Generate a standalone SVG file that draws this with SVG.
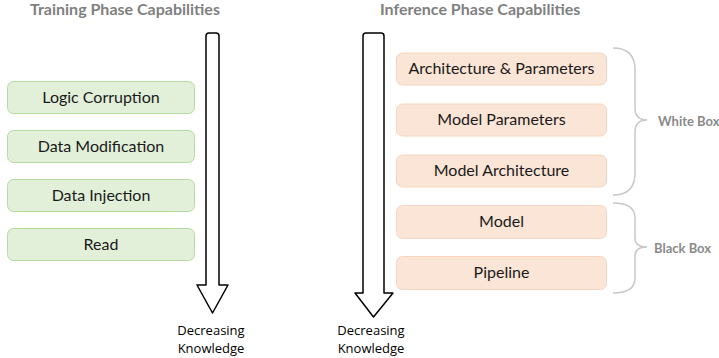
<svg xmlns="http://www.w3.org/2000/svg" width="719" height="358" viewBox="0 0 719 358">
<style>
.title{font-family:Lato,"Noto Sans",sans-serif;font-weight:bold;font-size:16px;fill:#7f7f7f}
.g rect{fill:#e2f0d9;stroke:#b5dba0;stroke-width:1}
.o rect{fill:#fbe5d6;stroke:#f4d6c2;stroke-width:1}
.lbl{font-family:Lato,"Noto Sans",sans-serif;font-size:16px;fill:#1a1a1a;text-anchor:middle;dominant-baseline:central}
.arrow{fill:#fff;stroke:#000;stroke-width:1.5;stroke-linejoin:round}
.dk{font-family:"Open Sans","Noto Sans",sans-serif;font-size:13px;fill:#000;text-anchor:middle}
.brace{fill:none;stroke:#c8c8c8;stroke-width:1.5}
.bl{font-family:Lato,"Noto Sans",sans-serif;font-weight:bold;font-size:13px;fill:#8a8a8a;dominant-baseline:central}
</style>
<text class="title" x="30" y="15">Training Phase Capabilities</text>
<text class="title" x="380" y="15">Inference Phase Capabilities</text>
<g id="connectors">
<path class="arrow" d="M206,285 L206,36 Q206,33 209,33 L216,33 Q219,33 219,36 L219,285 L228,285 L212.5,313 L197,285 Z"/>
<path class="arrow" d="M363,293 L363,36 Q363,33 366,33 L381,33 Q384,33 384,36 L384,293 L393,293 L373.5,317 L355,293 Z"/>
<path class="brace" d="M613,48 Q635,48 635,70 L635,108 Q635,120 647,120 Q635,120 635,132 L635,173 Q635,195 613,195"/>
<path class="brace" d="M613,203 Q635,203 635,218 L635,238 Q635,247 647,247 Q635,247 635,256 L635,278 Q635,293 613,293"/>
</g>
<g id="dk-left"><text class="dk" x="211" y="335">Decreasing</text><text class="dk" x="211" y="353">Knowledge</text></g>
<g id="dk-right"><text class="dk" x="371" y="335">Decreasing</text><text class="dk" x="371" y="353">Knowledge</text></g>
<g id="logic-corruption" class="g"><rect x="7.5" y="81.5" width="187" height="32" rx="6"/><text class="lbl" x="101" y="96">Logic Corruption</text></g>
<g id="data-modification" class="g"><rect x="7.5" y="130.5" width="187" height="32" rx="6"/><text class="lbl" x="101" y="145">Data Modification</text></g>
<g id="data-injection" class="g"><rect x="7.5" y="179.5" width="187" height="32" rx="6"/><text class="lbl" x="101" y="194">Data Injection</text></g>
<g id="read" class="g"><rect x="7.5" y="228.5" width="187" height="32" rx="6"/><text class="lbl" x="101" y="243">Read</text></g>
<g id="arch-params" class="o"><rect x="396.5" y="53" width="210" height="32" rx="6"/><text class="lbl" x="501.5" y="67.5">Architecture &amp; Parameters</text></g>
<g id="model-params" class="o"><rect x="396.5" y="104" width="210" height="32" rx="6"/><text class="lbl" x="501.5" y="118.5">Model Parameters</text></g>
<g id="model-arch" class="o"><rect x="396.5" y="155" width="210" height="32" rx="6"/><text class="lbl" x="501.5" y="169.5">Model Architecture</text></g>
<g id="model" class="o"><rect x="396.5" y="205.5" width="210" height="33" rx="6"/><text class="lbl" x="501.5" y="220.5">Model</text></g>
<g id="pipeline" class="o"><rect x="396.5" y="256.5" width="210" height="33" rx="6"/><text class="lbl" x="501.5" y="271.5">Pipeline</text></g>
<g id="white-box"><text class="bl" x="658" y="121">White Box</text></g>
<g id="black-box"><text class="bl" x="654" y="248">Black Box</text></g>
</svg>
